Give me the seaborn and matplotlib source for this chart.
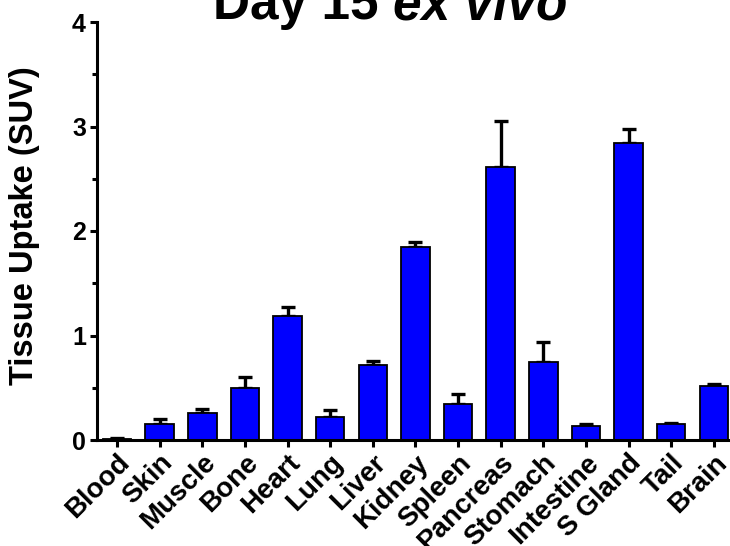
import matplotlib
matplotlib.use("Agg")
import matplotlib.pyplot as plt
import seaborn as sns
import pandas as pd
import numpy as np
from matplotlib.ticker import MultipleLocator

organs = ["Blood", "Skin", "Muscle", "Bone", "Heart", "Lung", "Liver", "Kidney",
          "Spleen", "Pancreas", "Stomach", "Intestine", "S Gland", "Tail", "Brain"]
suv_mean = [0.01, 0.155, 0.26, 0.50, 1.19, 0.22, 0.72, 1.85,
            0.34, 2.615, 0.75, 0.135, 2.845, 0.15, 0.52]
suv_err = [0.006, 0.045, 0.04, 0.10, 0.08, 0.065, 0.04, 0.04,
           0.10, 0.44, 0.185, 0.02, 0.135, 0.015, 0.012]

df = pd.DataFrame({"organ": organs, "suv": suv_mean})

sns.set_theme(style="ticks")
plt.rcParams['font.family'] = ['Liberation Sans', 'DejaVu Sans']
plt.rcParams['text.color'] = 'black'
plt.rcParams['axes.labelcolor'] = 'black'
plt.rcParams['xtick.color'] = 'black'
plt.rcParams['ytick.color'] = 'black'

fig = plt.figure(figsize=(7.3, 5.46), dpi=100)
ax = fig.add_axes([97/730, 1 - 440/546, 1 - 97/730, (440 - 22)/546])

sns.barplot(data=df, x="organ", y="suv", color="#0000FF", saturation=1,
            edgecolor="black", linewidth=1.3, width=0.67, errorbar=None,
            ax=ax, zorder=2)
for p in ax.patches:
    p.set_facecolor("#0000FF")

xs = np.arange(len(organs))
ax.errorbar(xs, suv_mean, yerr=[np.zeros(len(organs)), suv_err], fmt="none",
            ecolor="black", elinewidth=2.4, capsize=4.7, capthick=2.4, zorder=1)

ax.set_xlim(-0.47, 14.38)
ax.set_ylim(0, 4)
ax.yaxis.set_major_locator(MultipleLocator(1))
ax.yaxis.set_minor_locator(MultipleLocator(0.5))

for s in ["top", "right"]:
    ax.spines[s].set_visible(False)
for s in ["left", "bottom"]:
    ax.spines[s].set_linewidth(2.2)
    ax.spines[s].set_color("black")

ax.tick_params(axis="y", which="major", length=5, width=2.2, colors="black",
               labelsize=18, pad=3)
ax.tick_params(axis="y", which="minor", length=3.5, width=2.2, colors="black")
ax.tick_params(axis="x", which="major", length=5, width=2.2, colors="black",
               labelsize=20, pad=2)
for lbl in ax.get_yticklabels():
    lbl.set_fontweight("bold")
ax.set_xticks(xs)
ax.set_xticklabels(organs, rotation=45, ha="right", rotation_mode="anchor",
                   fontweight="bold", fontsize=20)

ax.set_xlabel("")
ax.set_ylabel("Tissue Uptake (SUV)", fontsize=23.5, fontweight="bold", color="black")
ax.yaxis.set_label_coords(-0.09, 0.512)

t1 = fig.text(213/730, 1 - 19/546, "Day 15 ", fontsize=37, fontweight="bold",
              ha="left", va="baseline", color="black")
fig.canvas.draw()
ax.annotate("ex vivo", xy=(1, 0), xycoords=t1, fontsize=37, fontweight="bold",
            fontstyle="italic", ha="left", va="bottom", annotation_clip=False,
            color="black")

fig.savefig("out.png", dpi=100)
